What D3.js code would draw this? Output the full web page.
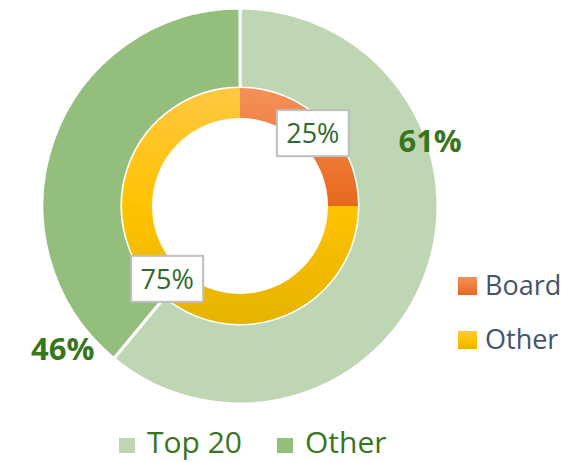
<!DOCTYPE html>
<html lang="en">
  <head>
    <meta charset="utf-8" />
    <title>Top 20 vs Other</title>
    <script src="https://d3js.org/d3.v7.min.js"></script>
    <style>
      body {
        margin: 0;
        background-color: #ffffff;
        font-family: "Open Sans", sans-serif;
      }
    </style>
  </head>
  <body>
    <div id="chart"></div>
    <script>
      // outer ring
      const outerCats = ["Top 20", "Other"];
      const outerValues = [61, 39];
      const outerLabels = ["61%", "46%"];
      // inner ring
      const innerCats = ["Board", "Other"];
      const innerValues = [25, 75];
      const innerLabels = ["25%", "75%"];

      const W = 587,
        H = 462;
      const cx = 240,
        cy = 206;

      const svg = d3
        .select("#chart")
        .append("svg")
        .attr("width", W)
        .attr("height", H);

      const defs = svg.append("defs");
      function grad(id, stops) {
        const g = defs
          .append("linearGradient")
          .attr("id", id)
          .attr("x1", 0)
          .attr("y1", 0)
          .attr("x2", 0)
          .attr("y2", 1);
        stops.forEach((s) =>
          g.append("stop").attr("offset", s[0]).attr("stop-color", s[1])
        );
      }
      grad("gBoard", [["0%", "#f5915a"], ["100%", "#e8681c"]]);
      grad("gOther", [["0%", "#ffc742"], ["50%", "#ffc300"], ["100%", "#e6b300"]]);

      const outerColor = d3.scaleOrdinal().domain(outerCats).range(["#bed6b4", "#93be7c"]);
      const innerFill = d3.scaleOrdinal().domain(innerCats).range(["url(#gBoard)", "url(#gOther)"]);

      const pie = d3.pie().sort(null).value((d) => d);

      const g = svg.append("g").attr("transform", `translate(${cx},${cy})`);

      const outerArc = d3.arc().innerRadius(118).outerRadius(198);
      g.selectAll("path.outer")
        .data(pie(outerValues))
        .enter()
        .append("path")
        .attr("class", "outer")
        .attr("d", outerArc)
        .attr("fill", (d, i) => outerColor(outerCats[i]))
        .attr("stroke", "#fff")
        .attr("stroke-width", 3);

      const innerArc = d3.arc().innerRadius(88).outerRadius(118);
      const innerPie = pie(innerValues);
      g.selectAll("path.inner")
        .data(innerPie)
        .enter()
        .append("path")
        .attr("class", "inner")
        .attr("d", innerArc)
        .attr("fill", (d, i) => innerFill(innerCats[i]));

      // inner labels in boxes at slice centroids
      const lab = g
        .selectAll("g.ilab")
        .data(innerPie)
        .enter()
        .append("g")
        .attr("class", "ilab")
        .attr("transform", (d) => `translate(${innerArc.centroid(d)})`);
      lab
        .append("rect")
        .attr("x", -36)
        .attr("y", -23)
        .attr("width", 72)
        .attr("height", 46)
        .attr("fill", "#fff")
        .attr("stroke", "#bfbfbf")
        .attr("stroke-width", 2);
      lab
        .append("text")
        .attr("text-anchor", "middle")
        .attr("y", 10)
        .style("font-size", "27px")
        .style("fill", "#2f6a2b")
        .text((d, i) => innerLabels[i]);

      // outer labels
      const outerPie = pie(outerValues);
      const outerPos = [
        { a: outerPie[0].startAngle + 1.24, r: 201 },
        { a: outerPie[1].startAngle + 0.2, r: 228 },
      ];
      g.selectAll("text.olab")
        .data(outerPie)
        .enter()
        .append("text")
        .attr("class", "olab")
        .attr("text-anchor", "middle")
        .attr("x", (d, i) => Math.sin(outerPos[i].a) * outerPos[i].r)
        .attr("y", (d, i) => -Math.cos(outerPos[i].a) * outerPos[i].r + 11)
        .style("font-size", "31px")
        .style("font-weight", "bold")
        .style("fill", "#38761d")
        .text((d, i) => outerLabels[i]);

      // right legend (inner ring)
      const rl = svg
        .selectAll("g.rleg")
        .data(innerCats)
        .enter()
        .append("g")
        .attr("class", "rleg")
        .attr("transform", (d, i) => `translate(458,${277 + i * 54})`);
      rl.append("rect")
        .attr("width", 19)
        .attr("height", 18)
        .attr("fill", (d) => innerFill(d));
      rl.append("text")
        .attr("x", 27)
        .attr("y", 18)
        .style("font-size", "27px")
        .style("fill", "#44546a")
        .text((d) => d);

      // bottom legend (outer ring)
      const bx = [119, 277];
      const bl = svg
        .selectAll("g.bleg")
        .data(outerCats)
        .enter()
        .append("g")
        .attr("class", "bleg")
        .attr("transform", (d, i) => `translate(${bx[i]},438)`);
      bl.append("rect")
        .attr("width", 16)
        .attr("height", 15)
        .attr("fill", (d) => outerColor(d));
      bl.append("text")
        .attr("x", 28)
        .attr("y", 15)
        .style("font-size", "30px")
        .style("fill", "#38761d")
        .text((d) => d);
    </script>
  </body>
</html>
